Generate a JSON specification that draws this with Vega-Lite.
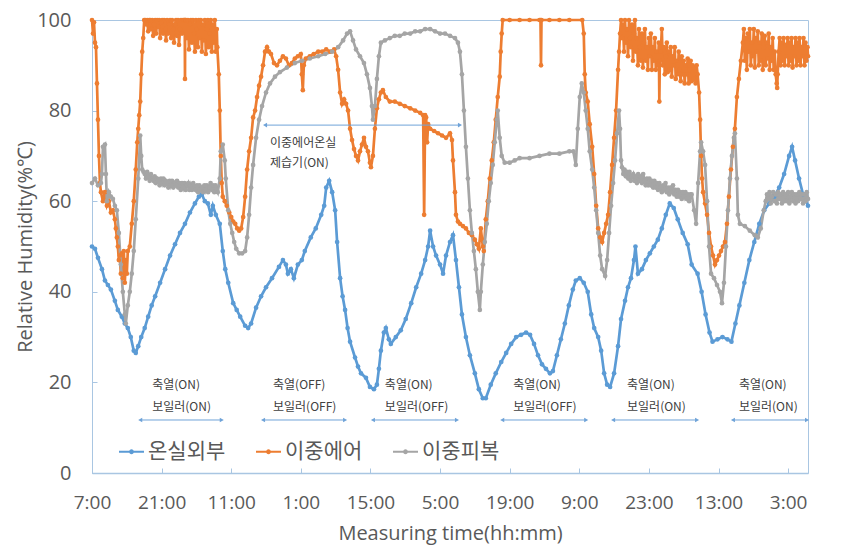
{
"$schema": "https://vega.github.io/schema/vega-lite/v6.json",
"width": 716, "height": 453,
"autosize": "none",
"padding": {"left": 92, "top": 20, "right": 33, "bottom": 76},
"background": "white",
"config": {"font": "Open Sans", "view": {"stroke": "#A9C6E2", "strokeWidth": 1}},
"datasets": {
"series": [
{"s":"온실외부","h":0,"v":50},{"s":"온실외부","h":0.6,"v":49.5},{"s":"온실외부","h":1.2,"v":47.5},{"s":"온실외부","h":2,"v":45},{"s":"온실외부","h":2.6,"v":42.5},{"s":"온실외부","h":3.2,"v":41.5},{"s":"온실외부","h":3.8,"v":40.5},{"s":"온실외부","h":4.6,"v":38},{"s":"온실외부","h":5.2,"v":36},{"s":"온실외부","h":6,"v":34.5},{"s":"온실외부","h":6.6,"v":33},{"s":"온실외부","h":7.2,"v":32},{"s":"온실외부","h":7.8,"v":30},{"s":"온실외부","h":8.4,"v":27},{"s":"온실외부","h":8.8,"v":26.5},{"s":"온실외부","h":9.3,"v":28},{"s":"온실외부","h":9.9,"v":30},{"s":"온실외부","h":10.6,"v":32},{"s":"온실외부","h":11.3,"v":34.5},{"s":"온실외부","h":12,"v":37},{"s":"온실외부","h":12.7,"v":39},{"s":"온실외부","h":13.7,"v":42},{"s":"온실외부","h":14.7,"v":45},{"s":"온실외부","h":15.7,"v":48},{"s":"온실외부","h":16.7,"v":50.5},{"s":"온실외부","h":17.7,"v":53},{"s":"온실외부","h":18.7,"v":55},{"s":"온실외부","h":19.7,"v":57.5},{"s":"온실외부","h":20.7,"v":59.5},{"s":"온실외부","h":21.5,"v":61},{"s":"온실외부","h":22.1,"v":61.5},{"s":"온실외부","h":22.7,"v":60},{"s":"온실외부","h":23.3,"v":59.5},{"s":"온실외부","h":23.9,"v":57},{"s":"온실외부","h":24.3,"v":59},{"s":"온실외부","h":24.9,"v":57},{"s":"온실외부","h":25.7,"v":55},{"s":"온실외부","h":26.3,"v":49},{"s":"온실외부","h":26.8,"v":45},{"s":"온실외부","h":27.4,"v":42},{"s":"온실외부","h":28.4,"v":37.5},{"s":"온실외부","h":29.1,"v":36},{"s":"온실외부","h":29.8,"v":34.5},{"s":"온실외부","h":30.8,"v":32.5},{"s":"온실외부","h":31.4,"v":32},{"s":"온실외부","h":32,"v":33},{"s":"온실외부","h":33,"v":36.5},{"s":"온실외부","h":34,"v":39},{"s":"온실외부","h":35,"v":41},{"s":"온실외부","h":36.2,"v":43},{"s":"온실외부","h":37.6,"v":45.5},{"s":"온실외부","h":38.4,"v":47},{"s":"온실외부","h":39,"v":46},{"s":"온실외부","h":39.4,"v":44},{"s":"온실외부","h":40,"v":45},{"s":"온실외부","h":40.6,"v":43},{"s":"온실외부","h":41.4,"v":46},{"s":"온실외부","h":42.2,"v":47},{"s":"온실외부","h":42.8,"v":49},{"s":"온실외부","h":44,"v":52},{"s":"온실외부","h":45,"v":54},{"s":"온실외부","h":46.1,"v":57},{"s":"온실외부","h":46.7,"v":59},{"s":"온실외부","h":47.1,"v":63},{"s":"온실외부","h":47.7,"v":64.5},{"s":"온실외부","h":48.3,"v":62},{"s":"온실외부","h":48.9,"v":58},{"s":"온실외부","h":49.3,"v":51},{"s":"온실외부","h":49.9,"v":43},{"s":"온실외부","h":50.4,"v":39},{"s":"온실외부","h":50.9,"v":36},{"s":"온실외부","h":51.4,"v":32},{"s":"온실외부","h":51.9,"v":29},{"s":"온실외부","h":52.9,"v":25.5},{"s":"온실외부","h":53.5,"v":23.5},{"s":"온실외부","h":54.1,"v":22},{"s":"온실외부","h":55.1,"v":21},{"s":"온실외부","h":55.9,"v":19},{"s":"온실외부","h":56.7,"v":18.5},{"s":"온실외부","h":57.3,"v":19.5},{"s":"온실외부","h":57.7,"v":23},{"s":"온실외부","h":58.1,"v":27},{"s":"온실외부","h":58.7,"v":31},{"s":"온실외부","h":59.1,"v":32},{"s":"온실외부","h":59.7,"v":29.5},{"s":"온실외부","h":60.1,"v":28.5},{"s":"온실외부","h":61.1,"v":30},{"s":"온실외부","h":62.1,"v":31.5},{"s":"온실외부","h":63.1,"v":34},{"s":"온실외부","h":64.2,"v":37.5},{"s":"온실외부","h":65.2,"v":41},{"s":"온실외부","h":66.2,"v":44},{"s":"온실외부","h":67,"v":47},{"s":"온실외부","h":67.6,"v":50},{"s":"온실외부","h":68,"v":53.5},{"s":"온실외부","h":68.6,"v":50},{"s":"온실외부","h":69.2,"v":48},{"s":"온실외부","h":70,"v":46},{"s":"온실외부","h":70.6,"v":44},{"s":"온실외부","h":71.2,"v":48},{"s":"온실외부","h":72,"v":51},{"s":"온실외부","h":72.6,"v":52.5},{"s":"온실외부","h":73.2,"v":47},{"s":"온실외부","h":73.8,"v":41},{"s":"온실외부","h":74.4,"v":35},{"s":"온실외부","h":75.2,"v":30},{"s":"온실외부","h":76,"v":26},{"s":"온실외부","h":77,"v":22},{"s":"온실외부","h":77.8,"v":18.5},{"s":"온실외부","h":78.6,"v":16.5},{"s":"온실외부","h":79.2,"v":16.5},{"s":"온실외부","h":80.2,"v":19.5},{"s":"온실외부","h":81.2,"v":22},{"s":"온실외부","h":82.3,"v":24.5},{"s":"온실외부","h":83.3,"v":26.5},{"s":"온실외부","h":84.3,"v":28.5},{"s":"온실외부","h":85.3,"v":30},{"s":"온실외부","h":86.3,"v":30.5},{"s":"온실외부","h":87.3,"v":31},{"s":"온실외부","h":88.1,"v":30.5},{"s":"온실외부","h":88.9,"v":28.5},{"s":"온실외부","h":89.7,"v":26},{"s":"온실외부","h":90.5,"v":24},{"s":"온실외부","h":91.3,"v":23},{"s":"온실외부","h":92.1,"v":22},{"s":"온실외부","h":92.7,"v":22.5},{"s":"온실외부","h":93.5,"v":26},{"s":"온실외부","h":94.3,"v":29.5},{"s":"온실외부","h":95.1,"v":33},{"s":"온실외부","h":95.9,"v":37},{"s":"온실외부","h":96.7,"v":40.5},{"s":"온실외부","h":97.3,"v":42.5},{"s":"온실외부","h":98.1,"v":43},{"s":"온실외부","h":98.9,"v":42},{"s":"온실외부","h":99.7,"v":40},{"s":"온실외부","h":100.4,"v":35},{"s":"온실외부","h":101,"v":32},{"s":"온실외부","h":101.8,"v":30},{"s":"온실외부","h":102.4,"v":27},{"s":"온실외부","h":103,"v":22},{"s":"온실외부","h":103.6,"v":19.5},{"s":"온실외부","h":104.2,"v":19},{"s":"온실외부","h":105,"v":22},{"s":"온실외부","h":105.8,"v":28},{"s":"온실외부","h":106.4,"v":34},{"s":"온실외부","h":107.2,"v":38},{"s":"온실외부","h":107.8,"v":41},{"s":"온실외부","h":108.4,"v":43},{"s":"온실외부","h":109,"v":47},{"s":"온실외부","h":109.3,"v":50},{"s":"온실외부","h":109.8,"v":44},{"s":"온실외부","h":110.6,"v":45},{"s":"온실외부","h":111.4,"v":47},{"s":"온실외부","h":112.2,"v":48.5},{"s":"온실외부","h":113,"v":50},{"s":"온실외부","h":113.8,"v":51.5},{"s":"온실외부","h":114.6,"v":54},{"s":"온실외부","h":115.4,"v":57},{"s":"온실외부","h":116.2,"v":59.5},{"s":"온실외부","h":117,"v":58.5},{"s":"온실외부","h":117.8,"v":56},{"s":"온실외부","h":118.8,"v":53},{"s":"온실외부","h":119.8,"v":50.5},{"s":"온실외부","h":120.6,"v":46},{"s":"온실외부","h":121.8,"v":44},{"s":"온실외부","h":122.6,"v":40},{"s":"온실외부","h":123.4,"v":35},{"s":"온실외부","h":124.2,"v":31},{"s":"온실외부","h":124.8,"v":29},{"s":"온실외부","h":125.8,"v":29.5},{"s":"온실외부","h":126.8,"v":30},{"s":"온실외부","h":127.8,"v":29.5},{"s":"온실외부","h":128.6,"v":29},{"s":"온실외부","h":129.4,"v":33},{"s":"온실외부","h":130.2,"v":37},{"s":"온실외부","h":131.2,"v":42},{"s":"온실외부","h":132.2,"v":47},{"s":"온실외부","h":133.2,"v":51},{"s":"온실외부","h":134.2,"v":55},{"s":"온실외부","h":135.2,"v":58},{"s":"온실외부","h":136.2,"v":59.5},{"s":"온실외부","h":137.2,"v":61},{"s":"온실외부","h":138.2,"v":63},{"s":"온실외부","h":139.2,"v":66},{"s":"온실외부","h":140.2,"v":70},{"s":"온실외부","h":140.8,"v":72},{"s":"온실외부","h":141.4,"v":69},{"s":"온실외부","h":142.2,"v":65},{"s":"온실외부","h":143,"v":61.5},{"s":"온실외부","h":144,"v":59},
{"s":"이중에어","h":0,"v":100},{"s":"이중에어","h":0.2,"v":97},{"s":"이중에어","h":0.4,"v":99.5},{"s":"이중에어","h":0.6,"v":95},{"s":"이중에어","h":0.8,"v":94},{"s":"이중에어","h":1,"v":86},{"s":"이중에어","h":1.2,"v":78},{"s":"이중에어","h":1.4,"v":70},{"s":"이중에어","h":1.6,"v":64},{"s":"이중에어","h":1.8,"v":62},{"s":"이중에어","h":2.2,"v":60},{"s":"이중에어","h":2.6,"v":62},{"s":"이중에어","h":3,"v":59},{"s":"이중에어","h":3.4,"v":60},{"s":"이중에어","h":3.8,"v":57.5},{"s":"이중에어","h":4.2,"v":58},{"s":"이중에어","h":4.6,"v":56},{"s":"이중에어","h":4.8,"v":54},{"s":"이중에어","h":5,"v":52},{"s":"이중에어","h":5.2,"v":50},{"s":"이중에어","h":5.4,"v":47},{"s":"이중에어","h":5.6,"v":48},{"s":"이중에어","h":5.8,"v":44},{"s":"이중에어","h":6,"v":48.5},{"s":"이중에어","h":6.2,"v":43},{"s":"이중에어","h":6.4,"v":49},{"s":"이중에어","h":6.6,"v":42},{"s":"이중에어","h":6.8,"v":47},{"s":"이중에어","h":7,"v":44},{"s":"이중에어","h":7.2,"v":49},{"s":"이중에어","h":7.6,"v":50},{"s":"이중에어","h":8,"v":55},{"s":"이중에어","h":8.4,"v":60},{"s":"이중에어","h":8.8,"v":67},{"s":"이중에어","h":9.1,"v":73},{"s":"이중에어","h":9.3,"v":76},{"s":"이중에어","h":9.5,"v":79},{"s":"이중에어","h":9.7,"v":82},{"s":"이중에어","h":9.9,"v":88},{"s":"이중에어","h":10.1,"v":93},{"s":"이중에어","h":10.3,"v":96},{"s":"이중에어","h":10.5,"v":100},
{"s":"이중에어","h":10.7,"v":100},{"s":"이중에어","h":10.9,"v":99},{"s":"이중에어","h":11.1,"v":100},{"s":"이중에어","h":11.3,"v":97.5},{"s":"이중에어","h":11.5,"v":100},{"s":"이중에어","h":11.7,"v":100},{"s":"이중에어","h":11.9,"v":98},{"s":"이중에어","h":12.1,"v":100},{"s":"이중에어","h":12.3,"v":96.5},{"s":"이중에어","h":12.5,"v":99},{"s":"이중에어","h":12.7,"v":100},{"s":"이중에어","h":12.9,"v":97},{"s":"이중에어","h":13.1,"v":100},{"s":"이중에어","h":13.3,"v":98.5},{"s":"이중에어","h":13.5,"v":100},{"s":"이중에어","h":13.7,"v":96},{"s":"이중에어","h":13.9,"v":99.5},{"s":"이중에어","h":14.1,"v":100},{"s":"이중에어","h":14.3,"v":97},{"s":"이중에어","h":14.5,"v":100},{"s":"이중에어","h":14.7,"v":98},{"s":"이중에어","h":14.9,"v":95.5},{"s":"이중에어","h":15.1,"v":100},{"s":"이중에어","h":15.3,"v":97},{"s":"이중에어","h":15.5,"v":99},{"s":"이중에어","h":15.7,"v":100},{"s":"이중에어","h":15.9,"v":96},{"s":"이중에어","h":16.1,"v":100},{"s":"이중에어","h":16.3,"v":98},{"s":"이중에어","h":16.5,"v":95},{"s":"이중에어","h":16.7,"v":99},{"s":"이중에어","h":16.9,"v":100},{"s":"이중에어","h":17.1,"v":96.5},{"s":"이중에어","h":17.3,"v":100},{"s":"이중에어","h":17.5,"v":94.5},{"s":"이중에어","h":17.7,"v":98},{"s":"이중에어","h":17.9,"v":100},{"s":"이중에어","h":18.1,"v":97},{"s":"이중에어","h":18.3,"v":100},{"s":"이중에어","h":18.5,"v":100},{"s":"이중에어","h":18.65,"v":100},{"s":"이중에어","h":18.7,"v":87},{"s":"이중에어","h":18.75,"v":100},{"s":"이중에어","h":18.9,"v":100},{"s":"이중에어","h":19.1,"v":96},{"s":"이중에어","h":19.3,"v":100},{"s":"이중에어","h":19.5,"v":93.5},{"s":"이중에어","h":19.7,"v":99},{"s":"이중에어","h":19.9,"v":100},{"s":"이중에어","h":20.1,"v":95},{"s":"이중에어","h":20.3,"v":100},{"s":"이중에어","h":20.5,"v":97},{"s":"이중에어","h":20.7,"v":93},{"s":"이중에어","h":20.9,"v":100},{"s":"이중에어","h":21.1,"v":98},{"s":"이중에어","h":21.3,"v":94},{"s":"이중에어","h":21.5,"v":100},{"s":"이중에어","h":21.7,"v":96},{"s":"이중에어","h":21.9,"v":100},{"s":"이중에어","h":22.1,"v":93},{"s":"이중에어","h":22.3,"v":99},{"s":"이중에어","h":22.5,"v":95.5},{"s":"이중에어","h":22.7,"v":100},{"s":"이중에어","h":22.9,"v":92.5},{"s":"이중에어","h":23.1,"v":98},{"s":"이중에어","h":23.3,"v":100},{"s":"이중에어","h":23.5,"v":94},{"s":"이중에어","h":23.7,"v":97},{"s":"이중에어","h":23.9,"v":100},{"s":"이중에어","h":24.1,"v":93},{"s":"이중에어","h":24.3,"v":99},{"s":"이중에어","h":24.5,"v":95},{"s":"이중에어","h":24.7,"v":100},{"s":"이중에어","h":24.9,"v":93},{"s":"이중에어","h":25.1,"v":98},{"s":"이중에어","h":25.2,"v":94},
{"s":"이중에어","h":25.5,"v":88},{"s":"이중에어","h":25.7,"v":80},{"s":"이중에어","h":25.9,"v":70},{"s":"이중에어","h":26.1,"v":64},{"s":"이중에어","h":26.3,"v":61},{"s":"이중에어","h":26.7,"v":60},{"s":"이중에어","h":27.1,"v":59},{"s":"이중에어","h":27.6,"v":57.5},{"s":"이중에어","h":28,"v":56.5},{"s":"이중에어","h":28.4,"v":55.5},{"s":"이중에어","h":28.8,"v":55},{"s":"이중에어","h":29.2,"v":54},{"s":"이중에어","h":29.6,"v":53.5},{"s":"이중에어","h":30,"v":54},{"s":"이중에어","h":30.4,"v":56.5},{"s":"이중에어","h":30.8,"v":61},{"s":"이중에어","h":31.2,"v":67},{"s":"이중에어","h":31.6,"v":71},{"s":"이중에어","h":32,"v":74},{"s":"이중에어","h":32.4,"v":78.5},{"s":"이중에어","h":32.8,"v":80},{"s":"이중에어","h":33.2,"v":83},{"s":"이중에어","h":33.6,"v":85.5},{"s":"이중에어","h":34,"v":87.5},{"s":"이중에어","h":34.4,"v":90},{"s":"이중에어","h":34.8,"v":93},{"s":"이중에어","h":35.2,"v":94},{"s":"이중에어","h":35.6,"v":93},{"s":"이중에어","h":36,"v":92.5},{"s":"이중에어","h":36.6,"v":90.5},{"s":"이중에어","h":37.2,"v":90},{"s":"이중에어","h":37.8,"v":91},{"s":"이중에어","h":38.4,"v":92},{"s":"이중에어","h":39,"v":91.5},{"s":"이중에어","h":39.6,"v":90},{"s":"이중에어","h":40.2,"v":90.5},{"s":"이중에어","h":40.8,"v":91.5},{"s":"이중에어","h":41.4,"v":92},{"s":"이중에어","h":42,"v":92.5},{"s":"이중에어","h":42.2,"v":88},{"s":"이중에어","h":42.4,"v":84.5},{"s":"이중에어","h":42.6,"v":90},{"s":"이중에어","h":43,"v":91.5},{"s":"이중에어","h":43.8,"v":92},{"s":"이중에어","h":44.6,"v":92.5},{"s":"이중에어","h":45.5,"v":93},{"s":"이중에어","h":46.3,"v":93},{"s":"이중에어","h":47.1,"v":93.5},{"s":"이중에어","h":47.9,"v":93},{"s":"이중에어","h":48.7,"v":93.5},{"s":"이중에어","h":49.1,"v":92},{"s":"이중에어","h":49.5,"v":89},{"s":"이중에어","h":49.9,"v":84},{"s":"이중에어","h":50.3,"v":81.5},{"s":"이중에어","h":50.7,"v":82.5},{"s":"이중에어","h":51.1,"v":81.5},{"s":"이중에어","h":51.5,"v":80},{"s":"이중에어","h":51.9,"v":76},{"s":"이중에어","h":52.3,"v":73.5},{"s":"이중에어","h":52.7,"v":71.5},{"s":"이중에어","h":53.1,"v":70},{"s":"이중에어","h":53.5,"v":69},{"s":"이중에어","h":53.9,"v":71},{"s":"이중에어","h":54.3,"v":72.5},{"s":"이중에어","h":54.7,"v":74},{"s":"이중에어","h":55.1,"v":72},{"s":"이중에어","h":55.5,"v":71},{"s":"이중에어","h":55.9,"v":68.5},{"s":"이중에어","h":56.1,"v":67.5},{"s":"이중에어","h":56.5,"v":70},{"s":"이중에어","h":56.9,"v":76},{"s":"이중에어","h":57.3,"v":80.5},{"s":"이중에어","h":57.7,"v":82.5},{"s":"이중에어","h":58.1,"v":84},{"s":"이중에어","h":58.5,"v":84.5},{"s":"이중에어","h":59.1,"v":83},{"s":"이중에어","h":59.9,"v":82},{"s":"이중에어","h":60.9,"v":82},{"s":"이중에어","h":61.9,"v":81.5},{"s":"이중에어","h":62.9,"v":81},{"s":"이중에어","h":64,"v":80.5},{"s":"이중에어","h":65,"v":80},{"s":"이중에어","h":66,"v":79.5},{"s":"이중에어","h":66.6,"v":79},{"s":"이중에어","h":66.8,"v":57},{"s":"이중에어","h":67,"v":79},{"s":"이중에어","h":67.2,"v":78.5},{"s":"이중에어","h":67.4,"v":73},{"s":"이중에어","h":67.6,"v":77},{"s":"이중에어","h":68,"v":76},{"s":"이중에어","h":68.8,"v":75.5},{"s":"이중에어","h":69.6,"v":75},{"s":"이중에어","h":70.4,"v":74.5},{"s":"이중에어","h":71.2,"v":74},{"s":"이중에어","h":72,"v":75},{"s":"이중에어","h":72.4,"v":73.5},{"s":"이중에어","h":72.6,"v":69},{"s":"이중에어","h":73,"v":62},{"s":"이중에어","h":73.2,"v":57},{"s":"이중에어","h":73.6,"v":55.5},{"s":"이중에어","h":74,"v":55},{"s":"이중에어","h":74.6,"v":54.5},{"s":"이중에어","h":75.2,"v":54},{"s":"이중에어","h":75.8,"v":53},{"s":"이중에어","h":76.4,"v":52.5},{"s":"이중에어","h":77,"v":51.5},{"s":"이중에어","h":77.4,"v":50.5},{"s":"이중에어","h":77.8,"v":49.5},{"s":"이중에어","h":78.2,"v":54},{"s":"이중에어","h":78.6,"v":50},{"s":"이중에어","h":78.8,"v":49},{"s":"이중에어","h":79.2,"v":56},{"s":"이중에어","h":79.6,"v":60},{"s":"이중에어","h":80,"v":65},{"s":"이중에어","h":80.4,"v":69},{"s":"이중에어","h":80.8,"v":73},{"s":"이중에어","h":81.2,"v":78},{"s":"이중에어","h":81.6,"v":83},{"s":"이중에어","h":82,"v":87.5},{"s":"이중에어","h":82.2,"v":93},{"s":"이중에어","h":82.4,"v":97},{"s":"이중에어","h":82.6,"v":100},{"s":"이중에어","h":84,"v":100},{"s":"이중에어","h":86,"v":100},{"s":"이중에어","h":88,"v":100},{"s":"이중에어","h":90,"v":100},{"s":"이중에어","h":90.2,"v":100},{"s":"이중에어","h":90.3,"v":90},{"s":"이중에어","h":90.4,"v":100},{"s":"이중에어","h":92,"v":100},{"s":"이중에어","h":94,"v":100},{"s":"이중에어","h":96,"v":100},{"s":"이중에어","h":98.6,"v":100},{"s":"이중에어","h":98.9,"v":97},{"s":"이중에어","h":99.1,"v":88},{"s":"이중에어","h":99.3,"v":84},{"s":"이중에어","h":99.7,"v":82},{"s":"이중에어","h":100.1,"v":77},{"s":"이중에어","h":100.6,"v":72},{"s":"이중에어","h":101,"v":66},{"s":"이중에어","h":101.4,"v":59},{"s":"이중에어","h":101.8,"v":54},{"s":"이중에어","h":102.2,"v":52},{"s":"이중에어","h":102.6,"v":51},{"s":"이중에어","h":103,"v":53},{"s":"이중에어","h":103.4,"v":55},{"s":"이중에어","h":103.8,"v":57},{"s":"이중에어","h":104.2,"v":62},{"s":"이중에어","h":104.6,"v":68},{"s":"이중에어","h":105,"v":74},{"s":"이중에어","h":105.4,"v":80},{"s":"이중에어","h":105.8,"v":89},{"s":"이중에어","h":106,"v":93},{"s":"이중에어","h":106.2,"v":97},
{"s":"이중에어","h":106.4,"v":100},{"s":"이중에어","h":106.6,"v":96},{"s":"이중에어","h":106.8,"v":99},{"s":"이중에어","h":107,"v":93},{"s":"이중에어","h":107.2,"v":100},{"s":"이중에어","h":107.4,"v":95},{"s":"이중에어","h":107.6,"v":98},{"s":"이중에어","h":107.8,"v":92},{"s":"이중에어","h":108,"v":100},{"s":"이중에어","h":108.2,"v":96},{"s":"이중에어","h":108.4,"v":94},{"s":"이중에어","h":108.6,"v":99},{"s":"이중에어","h":108.8,"v":91},{"s":"이중에어","h":109,"v":97},{"s":"이중에어","h":109.2,"v":100},{"s":"이중에어","h":109.4,"v":93},{"s":"이중에어","h":109.6,"v":96},{"s":"이중에어","h":109.8,"v":90},{"s":"이중에어","h":110,"v":98},{"s":"이중에어","h":110.2,"v":94},{"s":"이중에어","h":110.4,"v":91},{"s":"이중에어","h":110.6,"v":97},{"s":"이중에어","h":110.8,"v":89.5},{"s":"이중에어","h":111,"v":95},{"s":"이중에어","h":111.2,"v":98},{"s":"이중에어","h":111.4,"v":91},{"s":"이중에어","h":111.6,"v":94},{"s":"이중에어","h":111.8,"v":89},{"s":"이중에어","h":112,"v":96},{"s":"이중에어","h":112.2,"v":92},{"s":"이중에어","h":112.4,"v":97},{"s":"이중에어","h":112.6,"v":89},{"s":"이중에어","h":112.8,"v":94},{"s":"이중에어","h":113,"v":91},{"s":"이중에어","h":113.2,"v":96},{"s":"이중에어","h":113.4,"v":89},{"s":"이중에어","h":113.6,"v":93},{"s":"이중에어","h":113.8,"v":90},{"s":"이중에어","h":114,"v":95},{"s":"이중에어","h":114.1,"v":82},{"s":"이중에어","h":114.2,"v":91},{"s":"이중에어","h":114.4,"v":93},{"s":"이중에어","h":114.6,"v":98},{"s":"이중에어","h":114.8,"v":90},{"s":"이중에어","h":115,"v":94},{"s":"이중에어","h":115.2,"v":88},{"s":"이중에어","h":115.4,"v":92},{"s":"이중에어","h":115.6,"v":95},{"s":"이중에어","h":115.8,"v":88.5},{"s":"이중에어","h":116,"v":93},{"s":"이중에어","h":116.2,"v":89},{"s":"이중에어","h":116.4,"v":94},{"s":"이중에어","h":116.6,"v":87.5},{"s":"이중에어","h":116.8,"v":92},{"s":"이중에어","h":117,"v":90},{"s":"이중에어","h":117.2,"v":94},{"s":"이중에어","h":117.4,"v":87},{"s":"이중에어","h":117.6,"v":91},{"s":"이중에어","h":117.8,"v":88},{"s":"이중에어","h":118,"v":93},{"s":"이중에어","h":118.2,"v":89},{"s":"이중에어","h":118.4,"v":86.5},{"s":"이중에어","h":118.6,"v":92},{"s":"이중에어","h":118.8,"v":88},{"s":"이중에어","h":119,"v":91},{"s":"이중에어","h":119.2,"v":86},{"s":"이중에어","h":119.4,"v":90},{"s":"이중에어","h":119.6,"v":88},{"s":"이중에어","h":119.8,"v":91.5},{"s":"이중에어","h":120,"v":86},{"s":"이중에어","h":120.2,"v":89},{"s":"이중에어","h":120.4,"v":91},{"s":"이중에어","h":120.6,"v":86.5},{"s":"이중에어","h":120.8,"v":90},{"s":"이중에어","h":121,"v":87},{"s":"이중에어","h":121.2,"v":89.5},{"s":"이중에어","h":121.4,"v":86},{"s":"이중에어","h":121.6,"v":90},{"s":"이중에어","h":121.8,"v":88},
{"s":"이중에어","h":122.1,"v":84},{"s":"이중에어","h":122.3,"v":78},{"s":"이중에어","h":122.5,"v":70},{"s":"이중에어","h":122.7,"v":65},{"s":"이중에어","h":122.9,"v":62},{"s":"이중에어","h":123.3,"v":59.5},{"s":"이중에어","h":123.7,"v":57},{"s":"이중에어","h":124.1,"v":53},{"s":"이중에어","h":124.5,"v":50},{"s":"이중에어","h":124.9,"v":48},{"s":"이중에어","h":125.3,"v":46},{"s":"이중에어","h":125.7,"v":47},{"s":"이중에어","h":126.1,"v":48},{"s":"이중에어","h":126.5,"v":49},{"s":"이중에어","h":126.9,"v":50},{"s":"이중에어","h":127.3,"v":51},{"s":"이중에어","h":127.7,"v":55},{"s":"이중에어","h":128.1,"v":61},{"s":"이중에어","h":128.5,"v":67},{"s":"이중에어","h":128.9,"v":72},{"s":"이중에어","h":129.3,"v":76},{"s":"이중에어","h":129.7,"v":83},{"s":"이중에어","h":130.1,"v":87},{"s":"이중에어","h":130.5,"v":91},
{"s":"이중에어","h":130.9,"v":95},{"s":"이중에어","h":131.1,"v":98},{"s":"이중에어","h":131.3,"v":91},{"s":"이중에어","h":131.5,"v":96},{"s":"이중에어","h":131.7,"v":89},{"s":"이중에어","h":131.9,"v":97},{"s":"이중에어","h":132.1,"v":93},{"s":"이중에어","h":132.3,"v":98},{"s":"이중에어","h":132.5,"v":90},{"s":"이중에어","h":132.7,"v":95},{"s":"이중에어","h":132.9,"v":92},{"s":"이중에어","h":133.1,"v":98},{"s":"이중에어","h":133.3,"v":89.5},{"s":"이중에어","h":133.5,"v":96},{"s":"이중에어","h":133.7,"v":93},{"s":"이중에어","h":133.9,"v":97.5},{"s":"이중에어","h":134.1,"v":90},{"s":"이중에어","h":134.3,"v":95},{"s":"이중에어","h":134.5,"v":91},{"s":"이중에어","h":134.7,"v":97},{"s":"이중에어","h":134.9,"v":89},{"s":"이중에어","h":135.1,"v":94},{"s":"이중에어","h":135.3,"v":96.5},{"s":"이중에어","h":135.5,"v":90},{"s":"이중에어","h":135.7,"v":95},{"s":"이중에어","h":135.9,"v":91.5},{"s":"이중에어","h":136.1,"v":97},{"s":"이중에어","h":136.3,"v":89},{"s":"이중에어","h":136.5,"v":94},{"s":"이중에어","h":136.7,"v":91},{"s":"이중에어","h":136.9,"v":96},{"s":"이중에어","h":137.1,"v":89},{"s":"이중에어","h":137.3,"v":93},{"s":"이중에어","h":137.5,"v":88},{"s":"이중에어","h":137.7,"v":86},{"s":"이중에어","h":137.8,"v":85},{"s":"이중에어","h":137.9,"v":88},{"s":"이중에어","h":138.1,"v":93},{"s":"이중에어","h":138.3,"v":96},{"s":"이중에어","h":138.5,"v":90},{"s":"이중에어","h":138.7,"v":95},{"s":"이중에어","h":138.9,"v":91},{"s":"이중에어","h":139.1,"v":96},{"s":"이중에어","h":139.3,"v":90},{"s":"이중에어","h":139.5,"v":94.5},{"s":"이중에어","h":139.7,"v":92},{"s":"이중에어","h":139.9,"v":96},{"s":"이중에어","h":140.1,"v":90},{"s":"이중에어","h":140.3,"v":95},{"s":"이중에어","h":140.5,"v":91},{"s":"이중에어","h":140.7,"v":96},{"s":"이중에어","h":140.9,"v":89.5},{"s":"이중에어","h":141.1,"v":94},{"s":"이중에어","h":141.3,"v":92},{"s":"이중에어","h":141.5,"v":96},{"s":"이중에어","h":141.7,"v":90},{"s":"이중에어","h":141.9,"v":95},{"s":"이중에어","h":142.1,"v":91},{"s":"이중에어","h":142.3,"v":96},{"s":"이중에어","h":142.5,"v":90},{"s":"이중에어","h":142.7,"v":94},{"s":"이중에어","h":142.9,"v":92},{"s":"이중에어","h":143.1,"v":96},{"s":"이중에어","h":143.3,"v":90},{"s":"이중에어","h":143.5,"v":95},{"s":"이중에어","h":143.7,"v":91},{"s":"이중에어","h":143.9,"v":94},{"s":"이중에어","h":144,"v":92},
{"s":"이중피복","h":0,"v":64},{"s":"이중피복","h":0.6,"v":65},{"s":"이중피복","h":1.2,"v":63.5},{"s":"이중피복","h":1.8,"v":64},{"s":"이중피복","h":2,"v":66},{"s":"이중피복","h":2.2,"v":72},{"s":"이중피복","h":2.6,"v":72.5},{"s":"이중피복","h":2.8,"v":66},{"s":"이중피복","h":3,"v":60},{"s":"이중피복","h":3.4,"v":62},{"s":"이중피복","h":3.8,"v":61},{"s":"이중피복","h":4.2,"v":60.5},{"s":"이중피복","h":4.6,"v":59},{"s":"이중피복","h":5,"v":58},{"s":"이중피복","h":5.4,"v":53},{"s":"이중피복","h":5.8,"v":46},{"s":"이중피복","h":6.2,"v":40},{"s":"이중피복","h":6.6,"v":35},{"s":"이중피복","h":6.8,"v":33},{"s":"이중피복","h":7.2,"v":37},{"s":"이중피복","h":7.6,"v":40},{"s":"이중피복","h":8,"v":44},{"s":"이중피복","h":8.4,"v":49},{"s":"이중피복","h":8.8,"v":56},{"s":"이중피복","h":9.3,"v":65},{"s":"이중피복","h":9.7,"v":74.5},{"s":"이중피복","h":9.9,"v":70},{"s":"이중피복","h":10.1,"v":67},{"s":"이중피복","h":10.35,"v":66.5},
{"s":"이중피복","h":10.6,"v":66},{"s":"이중피복","h":10.85,"v":65},{"s":"이중피복","h":11.1,"v":66.5},{"s":"이중피복","h":11.35,"v":65.5},{"s":"이중피복","h":11.6,"v":64.5},{"s":"이중피복","h":11.85,"v":66},{"s":"이중피복","h":12.1,"v":65},{"s":"이중피복","h":12.35,"v":64.5},{"s":"이중피복","h":12.6,"v":65.5},{"s":"이중피복","h":12.85,"v":64},{"s":"이중피복","h":13.1,"v":65},{"s":"이중피복","h":13.35,"v":64.5},{"s":"이중피복","h":13.6,"v":63.5},{"s":"이중피복","h":13.85,"v":65},{"s":"이중피복","h":14.1,"v":64},{"s":"이중피복","h":14.35,"v":65},{"s":"이중피복","h":14.6,"v":63.5},{"s":"이중피복","h":14.85,"v":64.5},{"s":"이중피복","h":15.1,"v":64},{"s":"이중피복","h":15.35,"v":63},{"s":"이중피복","h":15.6,"v":64.5},{"s":"이중피복","h":15.85,"v":63.5},{"s":"이중피복","h":16.1,"v":64.5},{"s":"이중피복","h":16.35,"v":63},{"s":"이중피복","h":16.6,"v":64},{"s":"이중피복","h":16.85,"v":63.5},{"s":"이중피복","h":17.1,"v":64.5},{"s":"이중피복","h":17.35,"v":63},{"s":"이중피복","h":17.6,"v":64},{"s":"이중피복","h":17.85,"v":62.5},{"s":"이중피복","h":18.1,"v":64},{"s":"이중피복","h":18.35,"v":63},{"s":"이중피복","h":18.6,"v":64},{"s":"이중피복","h":18.85,"v":62.5},{"s":"이중피복","h":19.1,"v":63.5},{"s":"이중피복","h":19.35,"v":64},{"s":"이중피복","h":19.6,"v":62.5},{"s":"이중피복","h":19.85,"v":63.5},{"s":"이중피복","h":20.1,"v":62.5},{"s":"이중피복","h":20.35,"v":64},{"s":"이중피복","h":20.6,"v":63},{"s":"이중피복","h":20.85,"v":62.5},{"s":"이중피복","h":21.1,"v":63.5},{"s":"이중피복","h":21.35,"v":62},{"s":"이중피복","h":21.6,"v":63.5},{"s":"이중피복","h":21.85,"v":62.5},{"s":"이중피복","h":22.1,"v":63},{"s":"이중피복","h":22.35,"v":62},{"s":"이중피복","h":22.6,"v":63.5},{"s":"이중피복","h":22.85,"v":62.5},{"s":"이중피복","h":23.1,"v":63.5},{"s":"이중피복","h":23.35,"v":62},{"s":"이중피복","h":23.6,"v":63},{"s":"이중피복","h":23.85,"v":64},{"s":"이중피복","h":24.1,"v":62.5},{"s":"이중피복","h":24.35,"v":63.5},{"s":"이중피복","h":24.6,"v":62},{"s":"이중피복","h":24.85,"v":63.5},{"s":"이중피복","h":25.1,"v":62.5},{"s":"이중피복","h":25.3,"v":62},
{"s":"이중피복","h":25.7,"v":65},{"s":"이중피복","h":25.9,"v":71},{"s":"이중피복","h":26.3,"v":72.5},{"s":"이중피복","h":26.7,"v":69},{"s":"이중피복","h":26.9,"v":65},{"s":"이중피복","h":27.4,"v":58},{"s":"이중피복","h":27.8,"v":55},{"s":"이중피복","h":28.2,"v":53},{"s":"이중피복","h":28.6,"v":51},{"s":"이중피복","h":29,"v":49.5},{"s":"이중피복","h":29.6,"v":48.5},{"s":"이중피복","h":30.2,"v":48.5},{"s":"이중피복","h":30.8,"v":49},{"s":"이중피복","h":31.2,"v":52},{"s":"이중피복","h":31.6,"v":57},{"s":"이중피복","h":32,"v":63},{"s":"이중피복","h":32.4,"v":68},{"s":"이중피복","h":33,"v":74},{"s":"이중피복","h":33.6,"v":78},{"s":"이중피복","h":34.2,"v":81},{"s":"이중피복","h":35,"v":84},{"s":"이중피복","h":35.8,"v":86},{"s":"이중피복","h":36.8,"v":87.5},{"s":"이중피복","h":37.8,"v":88.5},{"s":"이중피복","h":39.2,"v":89.5},{"s":"이중피복","h":40.8,"v":90.5},{"s":"이중피복","h":42.2,"v":91},{"s":"이중피복","h":43.8,"v":91.5},{"s":"이중피복","h":45.5,"v":92},{"s":"이중피복","h":46.9,"v":92.5},{"s":"이중피복","h":48.3,"v":93},{"s":"이중피복","h":49.5,"v":94},{"s":"이중피복","h":50.5,"v":95.5},{"s":"이중피복","h":51.3,"v":97},{"s":"이중피복","h":51.9,"v":97.5},{"s":"이중피복","h":52.5,"v":95.5},{"s":"이중피복","h":53.1,"v":93.5},{"s":"이중피복","h":53.9,"v":92},{"s":"이중피복","h":54.7,"v":90.5},{"s":"이중피복","h":55.3,"v":88},{"s":"이중피복","h":55.9,"v":85},{"s":"이중피복","h":56.3,"v":81},{"s":"이중피복","h":56.5,"v":78},{"s":"이중피복","h":56.9,"v":81},{"s":"이중피복","h":57.3,"v":87},{"s":"이중피복","h":57.7,"v":92},{"s":"이중피복","h":58.1,"v":95},{"s":"이중피복","h":58.9,"v":95.5},{"s":"이중피복","h":59.9,"v":96},{"s":"이중피복","h":60.9,"v":96.5},{"s":"이중피복","h":61.9,"v":96.5},{"s":"이중피복","h":62.9,"v":97},{"s":"이중피복","h":64,"v":97},{"s":"이중피복","h":65,"v":97.5},{"s":"이중피복","h":66,"v":97.5},{"s":"이중피복","h":67,"v":98},{"s":"이중피복","h":68,"v":98},{"s":"이중피복","h":69,"v":97.5},{"s":"이중피복","h":70,"v":97},{"s":"이중피복","h":71,"v":97},{"s":"이중피복","h":72,"v":96.5},{"s":"이중피복","h":73,"v":96},{"s":"이중피복","h":73.6,"v":95},{"s":"이중피복","h":74,"v":93},{"s":"이중피복","h":74.4,"v":88},{"s":"이중피복","h":74.8,"v":80},{"s":"이중피복","h":75.2,"v":72},{"s":"이중피복","h":75.6,"v":65},{"s":"이중피복","h":76,"v":58},{"s":"이중피복","h":76.4,"v":53},{"s":"이중피복","h":76.8,"v":49},{"s":"이중피복","h":77.2,"v":45},{"s":"이중피복","h":77.6,"v":40},{"s":"이중피복","h":78,"v":36},{"s":"이중피복","h":78.2,"v":40},{"s":"이중피복","h":78.6,"v":46},{"s":"이중피복","h":79,"v":51},{"s":"이중피복","h":79.4,"v":55},{"s":"이중피복","h":79.8,"v":60},{"s":"이중피복","h":80.2,"v":64},{"s":"이중피복","h":80.6,"v":68},{"s":"이중피복","h":81,"v":73},{"s":"이중피복","h":81.4,"v":78},{"s":"이중피복","h":81.6,"v":80},{"s":"이중피복","h":82,"v":74},{"s":"이중피복","h":82.4,"v":70},{"s":"이중피복","h":83,"v":68.5},{"s":"이중피복","h":84,"v":68.5},{"s":"이중피복","h":85,"v":69},{"s":"이중피복","h":86,"v":69.5},{"s":"이중피복","h":88,"v":69.5},{"s":"이중피복","h":90,"v":70},{"s":"이중피복","h":92,"v":70.5},{"s":"이중피복","h":94,"v":70.5},{"s":"이중피복","h":96,"v":71},{"s":"이중피복","h":96.8,"v":71},{"s":"이중피복","h":97.3,"v":68},{"s":"이중피복","h":97.7,"v":76},{"s":"이중피복","h":98.1,"v":83},{"s":"이중피복","h":98.5,"v":86},{"s":"이중피복","h":98.9,"v":84},{"s":"이중피복","h":99.3,"v":80},{"s":"이중피복","h":99.7,"v":76},{"s":"이중피복","h":100.1,"v":71},{"s":"이중피복","h":100.6,"v":67},{"s":"이중피복","h":101,"v":63},{"s":"이중피복","h":101.4,"v":58},{"s":"이중피복","h":101.8,"v":53},{"s":"이중피복","h":102.2,"v":48},{"s":"이중피복","h":102.6,"v":45},{"s":"이중피복","h":103.2,"v":43.5},{"s":"이중피복","h":103.6,"v":47},{"s":"이중피복","h":104,"v":53},{"s":"이중피복","h":104.4,"v":59},{"s":"이중피복","h":104.8,"v":64},{"s":"이중피복","h":105.2,"v":69},{"s":"이중피복","h":105.6,"v":75},{"s":"이중피복","h":106,"v":80},{"s":"이중피복","h":106.2,"v":76},{"s":"이중피복","h":106.4,"v":69},
{"s":"이중피복","h":106.6,"v":67.5},{"s":"이중피복","h":106.85,"v":66},{"s":"이중피복","h":107.1,"v":67},{"s":"이중피복","h":107.35,"v":65.5},{"s":"이중피복","h":107.6,"v":66.5},{"s":"이중피복","h":107.85,"v":65},{"s":"이중피복","h":108.1,"v":66.5},{"s":"이중피복","h":108.35,"v":64.5},{"s":"이중피복","h":108.6,"v":65.5},{"s":"이중피복","h":108.85,"v":66},{"s":"이중피복","h":109.1,"v":64.5},{"s":"이중피복","h":109.35,"v":65.5},{"s":"이중피복","h":109.6,"v":64},{"s":"이중피복","h":109.85,"v":66},{"s":"이중피복","h":110.1,"v":64.5},{"s":"이중피복","h":110.35,"v":65.5},{"s":"이중피복","h":110.6,"v":64},{"s":"이중피복","h":110.85,"v":66},{"s":"이중피복","h":111.1,"v":64.5},{"s":"이중피복","h":111.35,"v":63.5},{"s":"이중피복","h":111.6,"v":65},{"s":"이중피복","h":111.85,"v":63.5},{"s":"이중피복","h":112.1,"v":65},{"s":"이중피복","h":112.35,"v":63.5},{"s":"이중피복","h":112.6,"v":64.5},{"s":"이중피복","h":112.85,"v":63},{"s":"이중피복","h":113.1,"v":64.5},{"s":"이중피복","h":113.35,"v":63},{"s":"이중피복","h":113.6,"v":64},{"s":"이중피복","h":113.85,"v":62.5},{"s":"이중피복","h":114.1,"v":64},{"s":"이중피복","h":114.35,"v":63},{"s":"이중피복","h":114.6,"v":62},{"s":"이중피복","h":114.85,"v":63.5},{"s":"이중피복","h":115.1,"v":62.5},{"s":"이중피복","h":115.35,"v":64},{"s":"이중피복","h":115.6,"v":62},{"s":"이중피복","h":115.85,"v":63},{"s":"이중피복","h":116.1,"v":61.5},{"s":"이중피복","h":116.35,"v":63},{"s":"이중피복","h":116.6,"v":62},{"s":"이중피복","h":116.85,"v":63.5},{"s":"이중피복","h":117.1,"v":61.5},{"s":"이중피복","h":117.35,"v":62.5},{"s":"이중피복","h":117.6,"v":61},{"s":"이중피복","h":117.85,"v":62.5},{"s":"이중피복","h":118.1,"v":61},{"s":"이중피복","h":118.35,"v":62},{"s":"이중피복","h":118.6,"v":60.5},{"s":"이중피복","h":118.85,"v":62},{"s":"이중피복","h":119.1,"v":61},{"s":"이중피복","h":119.35,"v":62},{"s":"이중피복","h":119.6,"v":60.5},{"s":"이중피복","h":119.85,"v":61.5},{"s":"이중피복","h":120.1,"v":60},{"s":"이중피복","h":120.35,"v":61.5},{"s":"이중피복","h":120.6,"v":61.5},
{"s":"이중피복","h":121.1,"v":58},{"s":"이중피복","h":121.5,"v":55},{"s":"이중피복","h":121.9,"v":64},{"s":"이중피복","h":122.3,"v":71},{"s":"이중피복","h":122.5,"v":73},{"s":"이중피복","h":122.9,"v":71},{"s":"이중피복","h":123.3,"v":68},{"s":"이중피복","h":123.7,"v":60},{"s":"이중피복","h":124.1,"v":50},{"s":"이중피복","h":124.5,"v":44},{"s":"이중피복","h":125.1,"v":43},{"s":"이중피복","h":125.7,"v":41.5},{"s":"이중피복","h":126.3,"v":40},{"s":"이중피복","h":126.7,"v":37.5},{"s":"이중피복","h":127.1,"v":42},{"s":"이중피복","h":127.5,"v":50},{"s":"이중피복","h":127.9,"v":58},{"s":"이중피복","h":128.3,"v":65},{"s":"이중피복","h":128.7,"v":70},{"s":"이중피복","h":129.1,"v":74},{"s":"이중피복","h":129.3,"v":75},{"s":"이중피복","h":129.7,"v":65},{"s":"이중피복","h":129.9,"v":57},{"s":"이중피복","h":130.3,"v":55},{"s":"이중피복","h":131.3,"v":54.5},{"s":"이중피복","h":132.3,"v":53.5},{"s":"이중피복","h":133.3,"v":52.5},{"s":"이중피복","h":133.9,"v":52},{"s":"이중피복","h":134.5,"v":54},{"s":"이중피복","h":135.1,"v":58},
{"s":"이중피복","h":135.5,"v":60},{"s":"이중피복","h":135.75,"v":61.5},{"s":"이중피복","h":136,"v":60.5},{"s":"이중피복","h":136.25,"v":62},{"s":"이중피복","h":136.5,"v":59.5},{"s":"이중피복","h":136.75,"v":61},{"s":"이중피복","h":137,"v":62},{"s":"이중피복","h":137.25,"v":60},{"s":"이중피복","h":137.5,"v":61.5},{"s":"이중피복","h":137.75,"v":59.5},{"s":"이중피복","h":138,"v":62},{"s":"이중피복","h":138.25,"v":60.5},{"s":"이중피복","h":138.5,"v":61.5},{"s":"이중피복","h":138.75,"v":59.5},{"s":"이중피복","h":139,"v":62},{"s":"이중피복","h":139.25,"v":60},{"s":"이중피복","h":139.5,"v":61.5},{"s":"이중피복","h":139.75,"v":60},{"s":"이중피복","h":140,"v":62},{"s":"이중피복","h":140.25,"v":59.5},{"s":"이중피복","h":140.5,"v":61},{"s":"이중피복","h":140.75,"v":62},{"s":"이중피복","h":141,"v":60},{"s":"이중피복","h":141.25,"v":61.5},{"s":"이중피복","h":141.5,"v":59.5},{"s":"이중피복","h":141.75,"v":61.5},{"s":"이중피복","h":142,"v":60},{"s":"이중피복","h":142.25,"v":62},{"s":"이중피복","h":142.5,"v":60.5},{"s":"이중피복","h":142.75,"v":61.5},{"s":"이중피복","h":143,"v":59.5},{"s":"이중피복","h":143.25,"v":61.5},{"s":"이중피복","h":143.5,"v":60},{"s":"이중피복","h":143.75,"v":62},{"s":"이중피복","h":144,"v":60.5}
],
"notes": [
{"h":12.1,"v":19.4,"t":"축열(ON)"},{"h":12.1,"v":14.6,"t":"보일러(ON)"},
{"h":36.4,"v":19.4,"t":"축열(OFF)"},{"h":36.4,"v":14.6,"t":"보일러(OFF)"},
{"h":58.9,"v":19.4,"t":"축열(ON)"},{"h":58.9,"v":14.6,"t":"보일러(OFF)"},
{"h":84.7,"v":19.4,"t":"축열(ON)"},{"h":84.7,"v":14.6,"t":"보일러(OFF)"},
{"h":107.6,"v":19.4,"t":"축열(ON)"},{"h":107.6,"v":14.6,"t":"보일러(ON)"},
{"h":130.1,"v":19.4,"t":"축열(ON)"},{"h":130.1,"v":14.6,"t":"보일러(ON)"},
{"h":35.8,"v":72.8,"t":"이중에어온실"},{"h":35.8,"v":68.4,"t":"제습기(ON)"}
],
"arrows": [
{"a":9.7,"b":26.1,"v":11.7},{"a":34.4,"b":50.9,"v":11.7},{"a":56.5,"b":73.4,"v":11.7},{"a":82.5,"b":99.4,"v":11.7},{"a":104.8,"b":121.7,"v":11.7},{"a":128.9,"b":143.8,"v":11.7},{"a":34.8,"b":74.0,"v":76.8}
]
},
"layer": [
{
"data": {"name": "series"},
"mark": {"type": "line", "strokeWidth": 2.7, "point": {"filled": true, "size": 22}},
"encoding": {
"x": {"field": "h", "type": "quantitative", "scale": {"domain": [0, 144], "nice": false, "zero": false},
"axis": {"title": "Measuring time(hh:mm)", "values": [0,14,28,42,56,70,84,98,112,126,140], "labelExpr": "((datum.value + 7) % 24) + ':00'", "grid": false, "labelFontSize": 19, "labelColor": "#595959", "labelPadding": 25, "tickSize": -5, "tickColor": "#A9C6E2", "domainColor": "#A9C6E2", "domainWidth": 1.5, "titleFontSize": 20, "titleFontWeight": "normal", "titleColor": "#595959", "titlePadding": 11, "labelFlush": false}},
"y": {"field": "v", "type": "quantitative", "scale": {"domain": [0, 100], "nice": false},
"axis": {"title": "Relative Humidity(%℃)", "values": [0,20,40,60,80,100], "grid": false, "labelFontSize": 20, "labelColor": "#595959", "labelPadding": 26, "tickSize": -5, "tickColor": "#A9C6E2", "domainColor": "#A9C6E2", "titleFontSize": 20, "titleFontWeight": "normal", "titleColor": "#595959", "titlePadding": 1}},
"color": {"field": "s", "type": "nominal", "scale": {"domain": ["온실외부", "이중에어", "이중피복"], "range": ["#5B9BD5", "#ED7D31", "#A5A5A5"]},
"legend": {"orient": "none", "legendX": 26, "legendY": 418, "direction": "horizontal", "title": null, "labelFont": "Noto Sans CJK KR", "labelFontSize": 21, "labelColor": "#595959", "symbolType": "M-1,0L1,0M-0.12,0A0.12,0.12,0,1,1,0.12,0A0.12,0.12,0,1,1,-0.12,0Z", "symbolSize": 625, "symbolStrokeWidth": 1.8, "labelOffset": 3, "columnPadding": 26}}
}
},
{
"data": {"name": "arrows"},
"mark": {"type": "rule", "color": "#6FA3D8", "strokeWidth": 1},
"encoding": {"x": {"field": "a", "type": "quantitative"}, "x2": {"field": "b"}, "y": {"field": "v", "type": "quantitative"}}
},
{
"data": {"name": "arrows"},
"transform": [{"fold": ["a", "b"], "as": ["end", "pos"]}],
"mark": {"type": "point", "filled": true, "color": "#6FA3D8", "size": 22, "opacity": 1},
"encoding": {"x": {"field": "pos", "type": "quantitative"}, "y": {"field": "v", "type": "quantitative"},
"shape": {"field": "end", "type": "nominal", "scale": {"domain": ["a", "b"], "range": ["triangle-left", "triangle-right"]}, "legend": null}}
},
{
"data": {"name": "notes"},
"mark": {"type": "text", "align": "left", "baseline": "middle", "font": "Noto Sans CJK KR", "fontSize": 12, "color": "#404040"},
"encoding": {"x": {"field": "h", "type": "quantitative"}, "y": {"field": "v", "type": "quantitative"}, "text": {"field": "t"}}
}
]
}
